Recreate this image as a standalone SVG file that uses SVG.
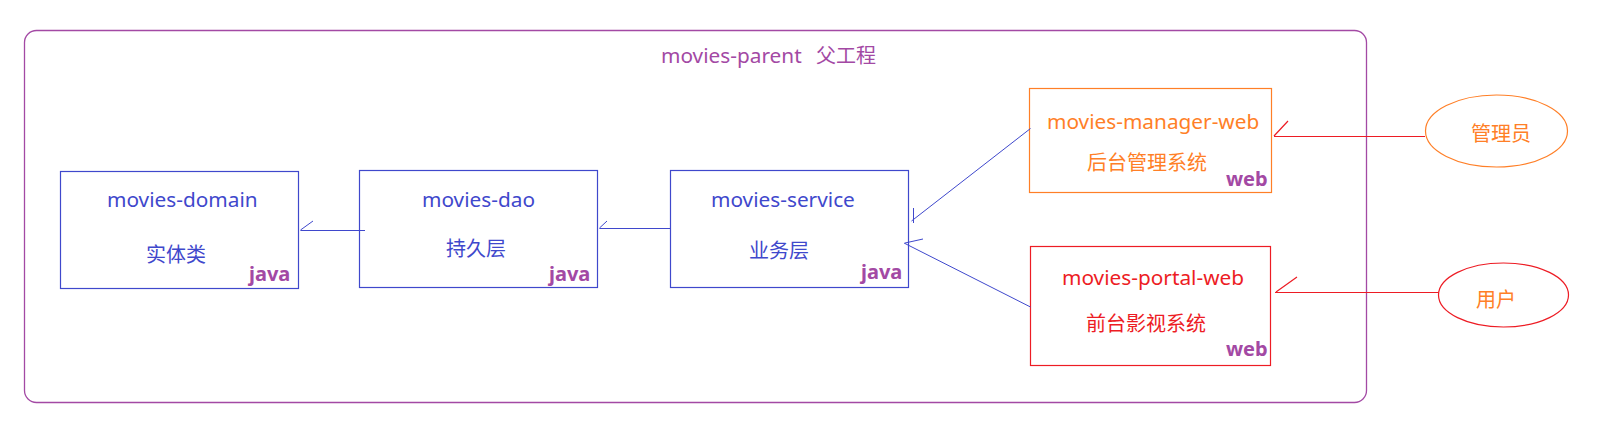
<svg xmlns="http://www.w3.org/2000/svg" width="1598" height="428" viewBox="0 0 1598 428">
<style>
.t{font-family:"Noto Sans","Noto Sans CJK SC",sans-serif;font-size:20.8px}
.c{font-family:"Noto Sans CJK SC","Noto Sans",sans-serif;font-size:20px}
.b{font-family:"Noto Sans","Noto Sans CJK SC",sans-serif;font-size:20px;font-weight:bold;fill:#a349a4}
.blue{fill:#3f48cc}
.org{fill:#ff7f27}
.red{fill:#ed1c24}
.pur{fill:#a349a4}
.bx{fill:none;stroke-width:1.2}
.cb{stroke:#3f48cc;stroke-width:1;fill:none}
.cr{stroke:#ed1c24;stroke-width:1.2;fill:none}
</style>
<rect width="1598" height="428" fill="#ffffff"/>
<g id="parent">
<rect x="24.5" y="30.5" width="1342" height="372" rx="12" fill="none" stroke="#a349a4" stroke-width="1.3"/>
<text class="t pur" x="661" y="63">movies-parent</text>
<text class="c pur" x="816" y="63">父工程</text>
</g>
<g id="domain">
<rect class="bx" x="60.5" y="171.5" width="238" height="117" stroke="#3f48cc"/>
<text class="t blue" x="107" y="207">movies-domain</text>
<text class="c blue" x="146" y="262">实体类</text>
<text class="b" x="249" y="281">java</text>
</g>
<g id="dao">
<rect class="bx" x="359.5" y="170.5" width="238" height="117" stroke="#3f48cc"/>
<text class="t blue" x="422" y="207">movies-dao</text>
<text class="c blue" x="446" y="256">持久层</text>
<text class="b" x="549" y="281">java</text>
</g>
<g id="service">
<rect class="bx" x="670.5" y="170.5" width="238" height="117" stroke="#3f48cc"/>
<text class="t blue" x="711" y="207">movies-service</text>
<text class="c blue" x="749" y="258">业务层</text>
<text class="b" x="861" y="279">java</text>
</g>
<g id="manager">
<rect class="bx" x="1029.5" y="88.5" width="242" height="104" stroke="#ff7f27"/>
<text class="t org" x="1047" y="129">movies-manager-web</text>
<text class="c org" x="1087" y="170">后台管理系统</text>
<text class="b" x="1226" y="186">web</text>
</g>
<g id="portal">
<rect class="bx" x="1030.5" y="246.5" width="240" height="119" stroke="#ed1c24"/>
<text class="t red" x="1062" y="285">movies-portal-web</text>
<text class="c red" x="1086" y="331">前台影视系统</text>
<text class="b" x="1226" y="356">web</text>
</g>
<g id="admin">
<ellipse cx="1496.5" cy="131" rx="71" ry="36" fill="none" stroke="#ff7f27" stroke-width="1.2"/>
<text class="c org" x="1471" y="141">管理员</text>
</g>
<g id="user">
<ellipse cx="1503.5" cy="295" rx="65" ry="32" fill="none" stroke="#ed1c24" stroke-width="1.2"/>
<text class="c org" x="1476" y="307">用户</text>
</g>
<g id="connectors">
<path class="cb" d="M365 230.5H300.5M300.5 230L313 221"/>
<path class="cb" d="M670 228.5H599.5M599.5 228L607 221"/>
<path class="cb" d="M1030.5 128.5L911.5 221M913.5 208V223"/>
<path class="cb" d="M1030.5 307L904 243M905 243L923 239"/>
<path class="cr" d="M1425 136.5H1274M1274 136L1288 121"/>
<path class="cr" d="M1438 292.5H1275M1276 292L1297 277"/>
</g>
</svg>
